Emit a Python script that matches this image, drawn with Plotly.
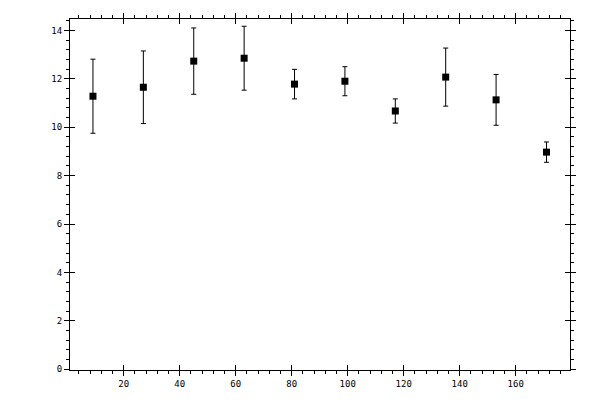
import plotly.graph_objects as go

# values
x_vals = [9, 27, 45, 63, 81, 99, 117, 135, 153, 171]
y_vals = [11.28, 11.65, 12.73, 12.85, 11.78, 11.90, 10.67, 12.07, 11.13, 8.97]
y_err = [1.53, 1.50, 1.37, 1.32, 0.61, 0.60, 0.50, 1.20, 1.05, 0.42]

X_RANGE = [0.8, 179.4]
Y_RANGE = [-0.03, 14.47]
tick_font = dict(family="DejaVu Sans Mono", size=9, color="black")

fig = go.Figure()
fig.add_trace(go.Scatter(
    x=x_vals, y=y_vals, mode="markers",
    marker=dict(symbol="square", size=7, color="black"),
    error_y=dict(type="data", array=y_err, visible=True, color="black",
                 thickness=1, width=2.5),
    showlegend=False,
))
# invisible trace so the overlay axes get drawn
fig.add_trace(go.Scatter(x=[None], y=[None], xaxis="x2", yaxis="y2",
                         showlegend=False, hoverinfo="skip"))

axis_common = dict(showgrid=False, zeroline=False, showline=True, linecolor="black",
                   linewidth=1, mirror="ticks", ticks="outside", ticklen=5,
                   tickwidth=1, tickcolor="black", tickfont=tick_font)

# page body has an 8px margin, so the figure is a bit smaller than the window
fig.update_layout(
    width=592, height=392,
    margin=dict(l=62, r=30, t=11, b=30, autoexpand=False),
    paper_bgcolor="white", plot_bgcolor="white",
    xaxis=dict(range=X_RANGE, tick0=0, dtick=20,
               minor=dict(dtick=4, ticks="outside", ticklen=3, tickcolor="black"),
               **axis_common),
    yaxis=dict(range=Y_RANGE, tick0=0, dtick=2,
               minor=dict(dtick=0.4, ticks="outside", ticklen=3, tickcolor="black"),
               **axis_common),
    # overlay axes: inner half of the major ticks
    xaxis2=dict(range=X_RANGE, tick0=0, dtick=20, overlaying="x", anchor="y2",
                ticks="inside", ticklen=5, tickcolor="black", mirror="ticks",
                showticklabels=False, showgrid=False, zeroline=False, showline=False),
    yaxis2=dict(range=Y_RANGE, tick0=0, dtick=2, overlaying="y", anchor="x2",
                ticks="inside", ticklen=5, tickcolor="black", mirror="ticks",
                showticklabels=False, showgrid=False, zeroline=False, showline=False),
)

fig.write_html("out.html")
